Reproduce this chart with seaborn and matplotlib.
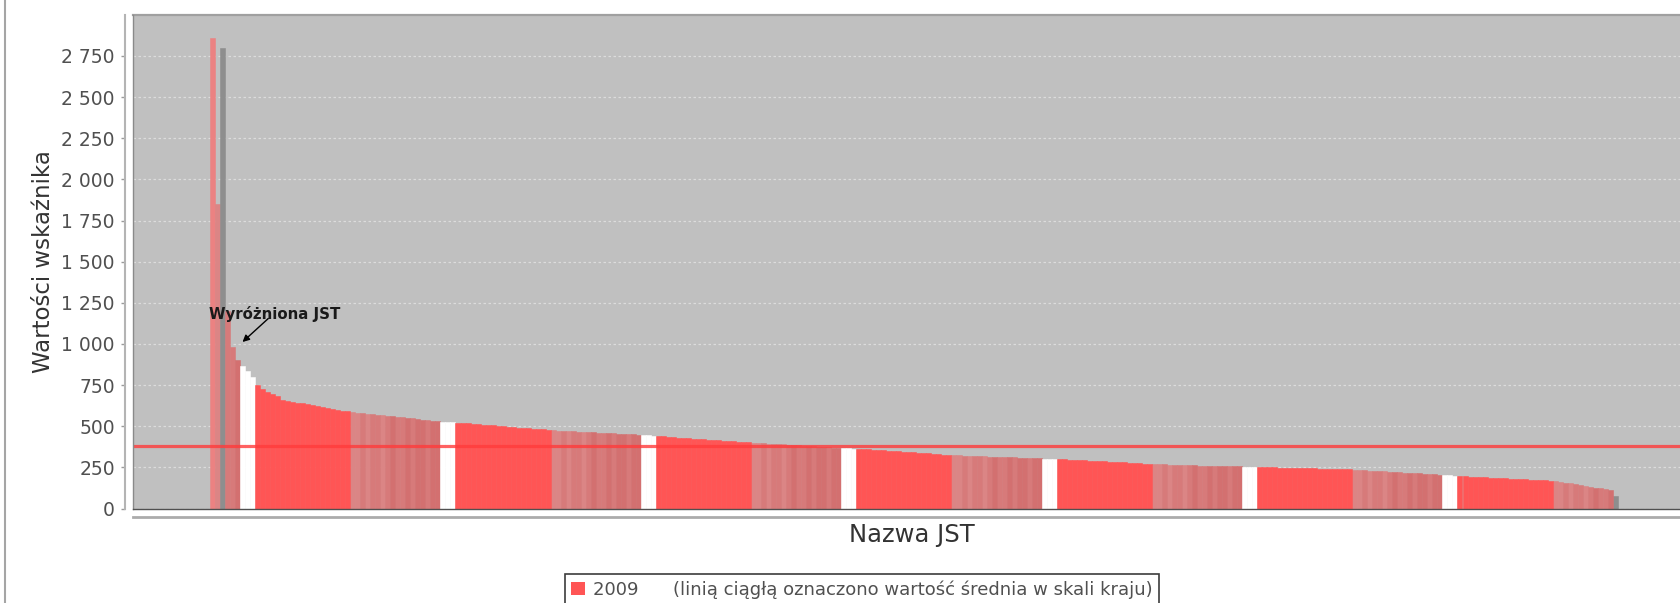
import matplotlib
matplotlib.use("Agg")
import matplotlib.pyplot as plt
from matplotlib.patches import Patch
from matplotlib.lines import Line2D
from matplotlib.ticker import FuncFormatter
import seaborn as sns
import pandas as pd

# ---------------- data ----------------
series_name = "2009"
legend_note = "(linią ciągłą oznaczono wartość średnia w skali kraju)"
x_title = "Nazwa JST"
y_title = "Wartości wskaźnika"
annotation_text = "Wyróżniona JST"
mean_value = 382
y_ticks = list(range(0, 2751, 250))

# sorted indicator values (one bar per group of JST)
values_2009 = [
    2860, 1850, 2800, 1200, 980, 900, 865, 835, 800,
    750, 725, 705, 695, 682, 662, 652, 647, 643, 640, 635, 628, 622, 616, 610, 605, 600, 595, 590,
    584, 581, 578, 575, 572, 569, 566, 563, 560, 557, 554, 551, 547, 543, 539, 535, 532, 529,
    527, 525, 523,
    521, 519, 517, 514, 512, 510, 507, 505, 502, 500, 497, 495, 492, 490, 487, 485, 483, 481, 478,
    476, 474, 473, 471, 469, 467, 466, 464, 462, 461, 459, 457, 456, 454, 453, 451, 450, 448,
    446, 444, 442,
    440, 438, 436, 434, 431, 429, 427, 425, 423, 421, 419, 417, 415, 413, 411, 409, 407, 405, 403,
    401, 399, 397, 395, 393, 391, 389, 387, 385, 383, 381, 379, 377, 375, 373, 371, 369, 367,
    366, 365, 364,
    363, 361, 359, 357, 355, 353, 351, 349, 347, 345, 343, 341, 339, 337, 335, 333, 331, 328, 326,
    324, 323, 322, 320, 319, 318, 317, 315, 314, 313, 312, 311, 310, 309, 308, 307, 306, 304,
    303, 302, 301,
    300, 298, 297, 295, 294, 292, 291, 289, 288, 286, 285, 283, 282, 280, 279, 277, 275, 273, 271,
    270, 269, 268, 267, 266, 265, 264, 263, 262, 261, 261, 260, 259, 258, 258, 257, 256, 256,
    255, 254, 253,
    252, 251, 250, 250, 249, 248, 247, 247, 246, 245, 244, 244, 243, 242, 241, 241, 240, 239, 238,
    235, 233, 232, 230, 228, 227, 225, 223, 221, 220, 218, 216, 214, 213, 211, 209, 207, 205,
    203, 201, 199,
    197, 195, 194, 192, 191, 189, 188, 186, 185, 183, 182, 180, 179, 177, 176, 174, 173, 171, 169,
    165, 162, 158, 152, 147, 142, 137, 132, 127, 122, 117, 112,
    75,
]

# colour group of every bar (runs of bars)
pink_run = ["pink1", "pink1", "pink2", "pink1", "pink2", "pink2", "pink1", "pink2", "pink3",
            "pink2", "pink2", "pink3", "pink2", "pink3", "pink3", "pink2", "pink3", "pink3"]
bands = ["spike", "pink1", "grey", "pink2", "pink2", "pink3", "white", "white", "white"]
for _ in range(6):
    bands += ["red"] * 19 + pink_run + ["white"] * 3
bands += ["red"] * 19 + pink_run[:12] + ["grey"]

palette = {
    "red": "#FF5555",
    "spike": "#EB8282",
    "pink1": "#DB8585",
    "pink2": "#D77A7A",
    "pink3": "#D37070",
    "white": "#FFFFFF",
    "grey": "#8E8E8E",
}

df = pd.DataFrame({"jst": list(range(len(values_2009))), "value": values_2009, "band": bands})

# ---------------- figure ----------------
W, H = 1680, 603
fig = plt.figure(figsize=(W / 100, H / 100), dpi=100)
ax_left, ax_top, ax_bottom, ax_right = 133, 15, 508.5, 1680
ax = fig.add_axes([ax_left / W, (H - ax_bottom) / H, (ax_right - ax_left) / W, (ax_bottom - ax_top) / H])
ax.set_facecolor("#C0C0C0")

sns.barplot(data=df, x="jst", y="value", hue="band", palette=palette, dodge=False,
            width=1.0, saturation=1, legend=False, ax=ax, order=list(range(len(values_2009))))
for p in ax.patches:
    p.set_edgecolor(p.get_facecolor())
    p.set_linewidth(0.4)

# pixel layout of the bar block
bar_px0, bar_w = 210.0, 5.01
ax.set_xlim(-0.5 - (bar_px0 - ax_left) / bar_w, -0.5 + (ax_right - bar_px0) / bar_w)
ax.set_ylim(0, 2999)

# mean line
ax.axhline(mean_value, color="#FF3B3B", alpha=0.8, lw=2.3, zorder=4)

# grid & axes styling
ax.set_axisbelow(True)
ax.yaxis.grid(True, color="#DCDCDC", linestyle=(0, (2, 2)), lw=0.9)
ax.xaxis.grid(False)
ax.set_yticks(y_ticks)
ax.yaxis.set_major_formatter(FuncFormatter(lambda v, p: f"{int(round(v)):,}".replace(",", " ")))
ax.set_xticks([])
ax.tick_params(axis="y", length=3, width=1, color="#9A9A9A", labelsize=13.5,
               labelcolor="#505050", pad=4)

ax.spines["right"].set_visible(False)
ax.spines["top"].set_color("#A0A0A0")
ax.spines["top"].set_linewidth(1.6)
ax.spines["left"].set_position(("outward", 6))
ax.spines["left"].set_color("#B4B4B4")
ax.spines["left"].set_linewidth(1.5)
ax.spines["bottom"].set_position(("outward", 6))
ax.spines["bottom"].set_color("#ABABAB")
ax.spines["bottom"].set_linewidth(2)

# plot-area outline (left and bottom edges)
ax.plot([0, 0], [0, 1], transform=ax.transAxes, color="#8A8A8A", lw=1, clip_on=False, zorder=6)
ax.plot([0, 1], [0, 0], transform=ax.transAxes, color="#505050", lw=1, clip_on=False, zorder=6)

ax.set_xlabel(x_title, fontsize=17.5, color="#333333")
ax.xaxis.set_label_coords((912 - ax_left) / (ax_right - ax_left), (ax_bottom - 523) / (ax_bottom - ax_top))
ax.set_ylabel(y_title, fontsize=16.5, color="#333333")
ax.yaxis.set_label_coords((55 - ax_left) / (ax_right - ax_left), 0.5)

# annotation with arrow
ax.annotate("", xy=(242.5, H - 342), xycoords="figure pixels",
            xytext=(268.3, H - 318.5), textcoords="figure pixels",
            arrowprops=dict(arrowstyle="-|>", color="black", lw=1, mutation_scale=10,
                            shrinkA=0, shrinkB=0), zorder=7)
ax.annotate(annotation_text, xy=(275, H - 314.5), xycoords="figure pixels",
            ha="center", va="center", fontsize=10.8, fontweight="bold", color="#1A1A1A", zorder=7)

# left frame line of the panel
fig.add_artist(Line2D([5 / W, 5 / W], [0, 1], color="#A5A5A5", lw=1.5))

# legend
handles = [Patch(facecolor="#FF5555", edgecolor="none")]
leg = fig.legend(handles, [series_name + "      " + legend_note], loc="upper left",
                 bbox_to_anchor=(565 / W, 1 - 574 / H), bbox_transform=fig.transFigure,
                 frameon=True, fancybox=False, edgecolor="#3C3C3C", facecolor="white",
                 framealpha=1, fontsize=13, handlelength=0.75, handleheight=0.8,
                 handletextpad=0.45, borderpad=0.35, borderaxespad=0)
leg.get_frame().set_linewidth(1.2)
for t in leg.get_texts():
    t.set_color("#505050")

fig.savefig("out.png", dpi=100, facecolor="white")
